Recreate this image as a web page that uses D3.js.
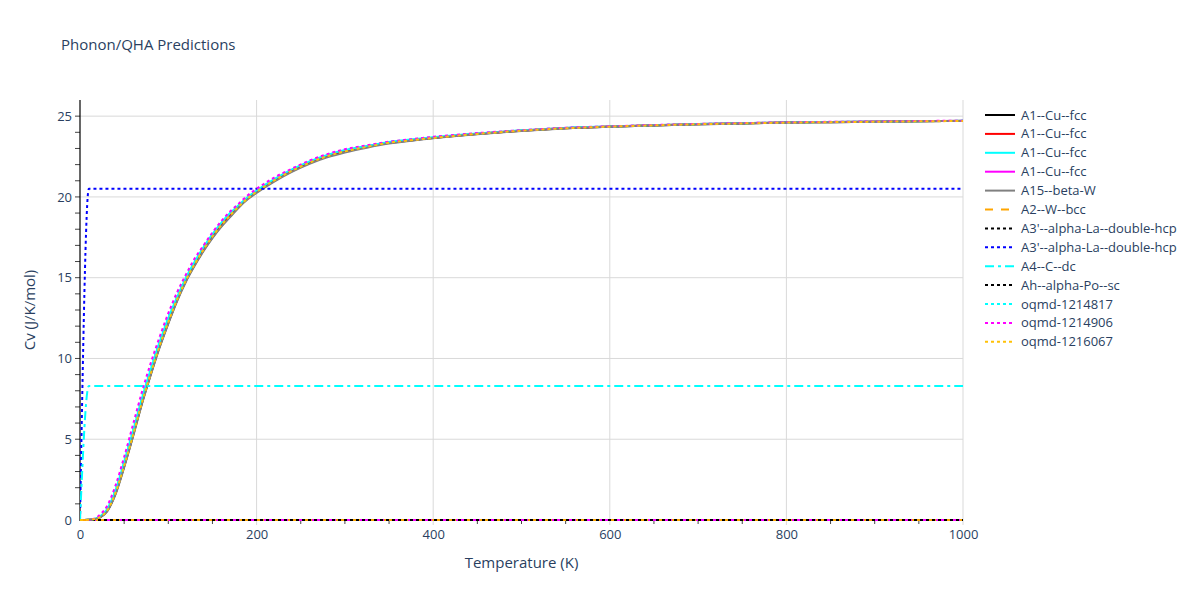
<!DOCTYPE html>
<html><head><meta charset="utf-8">
<script src="https://cdn.jsdelivr.net/npm/d3@7"></script>
<style>body{margin:0;background:#fff}text{font-family:"Open Sans",verdana,arial,sans-serif}</style>
</head><body><svg id="c" width="1200" height="600"></svg>
<script>
const temps = [0,5,10,15,20,25,30,40,50,60,70,80,90,100,110,120,130,140,150,160,170,180,190,200,220,240,260,280,300,325,350,375,400,450,500,550,600,650,700,750,800,850,900,950,1000];
const cvBlack = [0,0,0.01,0.03,0.1,0.25,0.5,1.6,3.3,5.2,7.2,9.0,10.7,12.2,13.6,14.8,15.8,16.7,17.5,18.2,18.8,19.4,19.9,20.3,21.0,21.6,22.1,22.5,22.8,23.1,23.35,23.5,23.65,23.9,24.1,24.25,24.35,24.42,24.5,24.55,24.6,24.63,24.65,24.68,24.7];
const cvRed = [0,0,0.01,0.04,0.12,0.28,0.55,1.7,3.4,5.3,7.3,9.1,10.8,12.3,13.7,14.9,15.9,16.8,17.6,18.3,18.9,19.45,19.95,20.35,21.05,21.65,22.15,22.55,22.85,23.12,23.37,23.52,23.66,23.91,24.11,24.26,24.36,24.43,24.51,24.56,24.61,24.64,24.66,24.69,24.71];
const cvCyan = [0,0,0.01,0.05,0.14,0.32,0.62,1.8,3.6,5.5,7.5,9.3,11.0,12.5,13.8,15.0,16.0,16.9,17.7,18.4,19.0,19.5,20.0,20.4,21.1,21.7,22.2,22.6,22.9,23.15,23.4,23.55,23.7,23.93,24.12,24.27,24.36,24.44,24.51,24.56,24.61,24.64,24.66,24.69,24.71];
const cvZero = [0,0,0,0,0,0,0,0,0,0,0,0,0,0,0,0,0,0,0,0,0,0,0,0,0,0,0,0,0,0,0,0,0,0,0,0,0,0,0,0,0,0,0,0,0];
const cvA15 = [0,0,0.01,0.03,0.09,0.23,0.48,1.55,3.25,5.15,7.15,8.95,10.65,12.15,13.55,14.75,15.75,16.65,17.45,18.15,18.75,19.35,19.85,20.25,20.95,21.55,22.05,22.45,22.75,23.05,23.3,23.48,23.63,23.88,24.08,24.24,24.34,24.42,24.49,24.55,24.59,24.63,24.65,24.68,24.7];
const blueT = [0,10,1000];
const blueCv = [0,20.5,20.5];
const a4T = [0,10,1000];
const a4Cv = [0,8.3,8.3];
const oqmd1214817 = [0,0,0.02,0.05,0.15,0.35,0.68,1.9,3.7,5.6,7.6,9.4,11.1,12.6,13.9,15.05,16.05,16.95,17.7,18.4,19.0,19.5,20.0,20.4,21.1,21.7,22.2,22.6,22.9,23.15,23.4,23.55,23.7,23.93,24.12,24.27,24.36,24.44,24.51,24.56,24.61,24.64,24.66,24.69,24.71];
const oqmd1214906 = [0,0,0.02,0.07,0.2,0.45,0.8,2.1,3.9,5.9,7.9,9.7,11.3,12.8,14.1,15.2,16.2,17.0,17.8,18.5,19.1,19.6,20.1,20.5,21.2,21.75,22.25,22.65,22.95,23.2,23.42,23.57,23.72,23.95,24.13,24.28,24.37,24.45,24.52,24.57,24.62,24.65,24.67,24.7,24.72];
const oqmd1216067 = [0,0,0.01,0.04,0.11,0.27,0.53,1.65,3.35,5.25,7.25,9.05,10.75,12.25,13.65,14.85,15.85,16.75,17.55,18.25,18.85,19.42,19.92,20.32,21.02,21.62,22.12,22.52,22.82,23.1,23.36,23.51,23.65,23.9,24.1,24.25,24.35,24.43,24.5,24.55,24.6,24.63,24.65,24.68,24.7];
const xTicks = [0,200,400,600,800,1000];
const yTicks = [0,5,10,15,20,25];

const series = [
  {name:"A1--Cu--fcc", x:temps, y:cvBlack, color:"#000000", dash:null},
  {name:"A1--Cu--fcc", x:temps, y:cvRed, color:"#ff0000", dash:null},
  {name:"A1--Cu--fcc", x:temps, y:cvCyan, color:"#00ffff", dash:null},
  {name:"A1--Cu--fcc", x:temps, y:cvZero, color:"#ff00ff", dash:null},
  {name:"A15--beta-W", x:temps, y:cvA15, color:"#808080", dash:null},
  {name:"A2--W--bcc", x:temps, y:cvZero, color:"#ffa500", dash:"8,8"},
  {name:"A3'--alpha-La--double-hcp", x:temps, y:cvZero, color:"#000000", dash:"3,3"},
  {name:"A3'--alpha-La--double-hcp", x:blueT, y:blueCv, color:"#0000ff", dash:"3,3"},
  {name:"A4--C--dc", x:a4T, y:a4Cv, color:"#00ffff", dash:"9,4,3,4"},
  {name:"Ah--alpha-Po--sc", x:temps, y:cvZero, color:"#000000", dash:"3,3"},
  {name:"oqmd-1214817", x:temps, y:oqmd1214817, color:"#00ffff", dash:"3,3"},
  {name:"oqmd-1214906", x:temps, y:oqmd1214906, color:"#ff00ff", dash:"3,3"},
  {name:"oqmd-1216067", x:temps, y:oqmd1216067, color:"#ffc107", dash:"3,3"}
];

const svg = d3.select("#c");
const L=80, R=963, T=100, B=520;
const x = d3.scaleLinear().domain([0,1000]).range([L,R]);
const y = d3.scaleLinear().domain([0,26]).range([B,T]);
const txt = "#2a3f5f";

// gridlines
svg.append("g").selectAll("line").data(xTicks.filter(d=>d>0)).join("line")
  .attr("x1",d=>x(d)).attr("x2",d=>x(d)).attr("y1",T).attr("y2",B+5)
  .attr("stroke","#d9d9d9").attr("stroke-width",1);
svg.append("g").selectAll("line").data(yTicks.filter(d=>d>0)).join("line")
  .attr("x1",L).attr("x2",R).attr("y1",d=>y(d)).attr("y2",d=>y(d))
  .attr("stroke","#d9d9d9").attr("stroke-width",1);

// minor ticks
const xMinor = d3.range(50,1000,50).filter(d=>d%200!==0);
svg.append("g").selectAll("line").data(xMinor).join("line")
  .attr("x1",d=>x(d)).attr("x2",d=>x(d)).attr("y1",B).attr("y2",B+4)
  .attr("stroke","#444").attr("stroke-width",1);
const yMinor = d3.range(1,26,1);
svg.append("g").selectAll("line").data(yMinor).join("line")
  .attr("x1",L-5).attr("x2",L).attr("y1",d=>y(d)).attr("y2",d=>y(d))
  .attr("stroke","#444").attr("stroke-width",1);

// axes
const xAxis = svg.append("g").attr("transform",`translate(0,${B})`)
  .call(d3.axisBottom(x).tickValues(xTicks).tickFormat(d3.format("d")).tickSize(0).tickPadding(10));
xAxis.select(".domain").remove();
xAxis.selectAll("text").attr("fill",txt).attr("font-size",13);
const yAxis = svg.append("g").attr("transform",`translate(${L},0)`)
  .call(d3.axisLeft(y).tickValues(yTicks).tickSize(0).tickPadding(8));
yAxis.select(".domain").remove();
yAxis.selectAll("text").attr("fill",txt).attr("font-size",13);
svg.append("line").attr("x1",L).attr("x2",L).attr("y1",T).attr("y2",B+1).attr("stroke","#000").attr("stroke-width",1.2);

// lines
svg.append("clipPath").attr("id","clp").append("rect").attr("x",L).attr("y",T-2).attr("width",R-L+2).attr("height",B-T+4);
const gl = svg.append("g").attr("clip-path","url(#clp)");
const line = d3.line().x(d=>x(d[0])).y(d=>y(d[1])).curve(d3.curveMonotoneX);
series.forEach(s=>{
  gl.append("path").datum(s.x.map((t,i)=>[t,s.y[i]]))
    .attr("d",line).attr("fill","none").attr("stroke",s.color).attr("stroke-width",2)
    .attr("stroke-dasharray",s.dash);
});

// title and axis titles
svg.append("text").attr("x",61).attr("y",50).attr("font-size",15).attr("fill",txt).text("Phonon/QHA Predictions");
svg.append("text").attr("x",(L+R)/2).attr("y",568).attr("text-anchor","middle").attr("font-size",15).attr("fill",txt).text("Temperature (K)");
svg.append("text").attr("transform",`translate(35,${(T+B)/2}) rotate(-90)`).attr("text-anchor","middle").attr("font-size",15).attr("fill",txt).text("Cv (J/K/mol)");

// legend
const lg = svg.append("g");
series.forEach((s,i)=>{
  const yy = 115 + i*18.9;
  lg.append("line").attr("x1",985).attr("x2",1015).attr("y1",yy).attr("y2",yy)
    .attr("stroke",s.color).attr("stroke-width",2).attr("stroke-dasharray",s.dash);
  lg.append("text").attr("x",1021).attr("y",yy+4.5).attr("font-size",13).attr("fill",txt).text(s.name);
});
</script></body></html>
